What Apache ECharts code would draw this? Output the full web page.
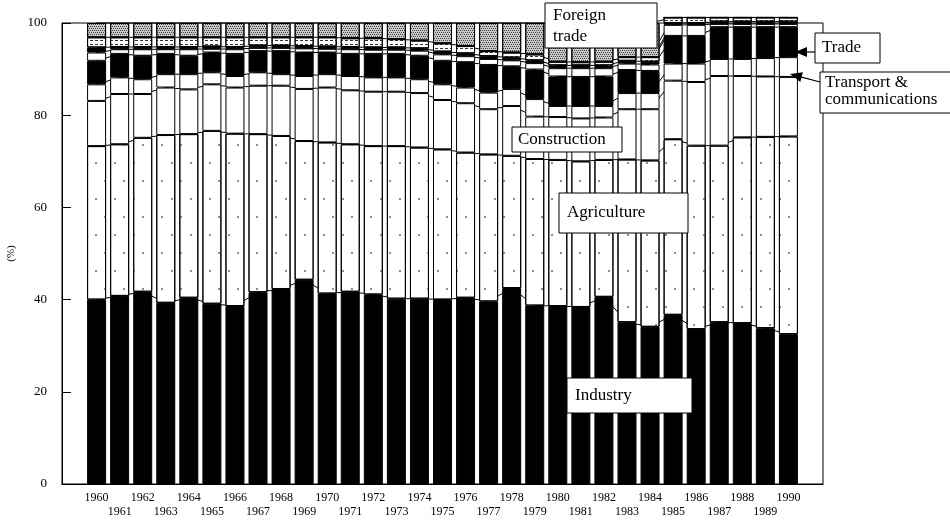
<!DOCTYPE html>
<html><head><meta charset="utf-8">
<script src="https://cdn.jsdelivr.net/npm/echarts@6/dist/echarts.min.js"></script>
<style>html,body{margin:0;padding:0;background:#fff}#c{width:950px;height:526px}</style>
</head><body><div id="c"></div>
<script>
const years = ['1960','1961','1962','1963','1964','1965','1966','1967','1968','1969','1970','1971','1972','1973','1974','1975','1976','1977','1978','1979','1980','1981','1982','1983','1984','1985','1986','1987','1988','1989','1990'];
const yTicks = [0, 20, 40, 60, 80, 100];
const industry     = [40.0,40.8,41.7,39.3,40.4,39.1,38.6,41.6,42.3,44.3,41.3,41.7,41.1,40.2,40.2,40.0,40.4,39.6,42.5,38.7,38.6,38.4,40.6,35.1,34.1,36.7,33.6,35.1,34.9,33.8,32.5];
const agriculture  = [33.3,32.9,33.4,36.4,35.5,37.5,37.4,34.3,33.2,30.1,32.8,32.0,32.2,33.1,32.8,32.6,31.5,31.9,28.7,31.8,31.7,31.6,29.7,35.3,36.1,38.1,39.8,38.3,40.3,41.5,42.9];
const construction = [9.8,10.9,9.5,10.3,9.7,10.1,10.0,10.5,10.9,11.3,11.9,11.7,11.8,11.8,11.8,10.7,10.7,9.8,10.8,9.2,9.3,9.3,9.2,10.9,11.1,12.7,13.8,15.1,13.3,13.1,12.9];
const transport    = [3.6,3.6,3.2,2.9,3.3,2.6,2.5,2.9,2.5,2.8,2.9,3.1,3.1,3.1,3.0,3.4,3.4,3.6,3.7,3.8,2.4,2.7,2.5,3.5,3.5,3.7,4.0,3.7,3.7,4.0,4.3];
const trade        = [5.1,5.1,5.1,4.4,4.0,4.3,4.8,4.6,5.0,5.1,4.7,4.8,5.1,5.1,5.1,5.1,5.5,6.0,4.9,6.4,6.4,6.3,6.4,5.0,4.8,6.0,6.0,6.9,6.9,6.7,6.5];
const otherWhite   = [1.8,1.0,1.4,1.0,1.4,0.8,1.0,0.7,0.7,0.9,0.8,1.0,0.9,0.9,1.1,1.4,1.3,1.3,1.3,1.4,1.8,1.9,1.8,1.4,1.4,2.4,2.4,0.7,0.7,0.7,0.7];
const thinBlack    = [1.1,0.5,0.5,0.5,0.5,0.5,0.5,0.5,0.5,0.5,0.5,0.5,0.5,0.5,0.5,0.6,0.6,0.6,0.6,0.6,0.6,0.6,0.6,0.6,0.6,0.4,0.4,0.5,0.5,0.5,0.5];
const dotted       = [2.2,2.1,2.1,2.1,2.1,2.0,2.1,1.8,1.8,1.9,2.0,1.9,2.0,1.8,1.7,1.8,1.6,1.1,1.1,1.3,0.8,0.7,0.8,0.8,1.0,1.2,1.2,0.9,0.9,0.9,0.9];
const foreignTrade = [3.1,3.1,3.1,3.1,3.1,3.1,3.1,3.1,3.1,3.1,3.1,3.3,3.3,3.5,3.8,4.4,5.0,6.1,6.4,6.8,8.4,8.5,8.4,7.4,7.4,0,0,0,0,0,0];

const FONT = '"Liberation Serif", "DejaVu Serif", serif';
const cats = [''].concat(years, ['']);
const pad = a => ['-'].concat(a, ['-']);

const layers = [
  {name:'Industry', data:industry, color:'#000'},
  {name:'Agriculture', data:agriculture, color:'#fff',
    decal:{symbol:'circle', symbolSize:1, dashArrayX:[[1.4,17],[0,9,1.4,7.6]], dashArrayY:[1.4,16], color:'#666'}},
  {name:'Construction', data:construction, color:'#fff'},
  {name:'Transport & communications', data:transport, color:'#fff'},
  {name:'Trade', data:trade, color:'#000'},
  {name:'Other', data:otherWhite, color:'#fff'},
  {name:'Other2', data:thinBlack, color:'#000'},
  {name:'Other3', data:dotted, color:'#fff',
    decal:{symbol:'rect', symbolSize:1, dashArrayX:[3,2], dashArrayY:[1,3], color:'#333'}},
  {name:'Foreign trade', data:foreignTrade, color:'#c8c8c8',
    decal:{symbol:'rect', symbolSize:1, dashArrayX:[[1,1],[0,1,1,0]], dashArrayY:[1,0.6], color:'#444'}}
];

const series = [];
layers.forEach(L => {
  series.push({
    type:'bar', name:L.name, stack:'total', data:pad(L.data), barWidth:19,
    z:3, clip:false, silent:true, animation:false,
    itemStyle:{color:L.color, borderColor:'#000', borderWidth:1, decal:L.decal || null}
  });
  series.push({
    type:'line', name:L.name + ' link', stack:'links', data:pad(L.data),
    symbol:'none', z:1, clip:false, silent:true, animation:false,
    lineStyle:{color:'#000', width:1}
  });
});

function box(x, y, w, h, text, tx, ty, lh) {
  return {
    type:'group',
    children:[
      {type:'rect', z:100, shape:{x:x, y:y, width:w, height:h}, style:{fill:'#fff', stroke:'#000', lineWidth:1}},
      {type:'text', z:101, x:tx, y:ty, style:{text:text, fill:'#000', font:'17px ' + FONT, lineHeight:lh || 20, textVerticalAlign:'top'}}
    ]
  };
}
function arrow(x1, y1, x2, y2) {
  const ang = Math.atan2(y2 - y1, x2 - x1);
  const L = 12, W = 5;
  const bx = x2 - L * Math.cos(ang), by = y2 - L * Math.sin(ang);
  const px = -Math.sin(ang) * W, py = Math.cos(ang) * W;
  return {
    type:'group',
    children:[
      {type:'line', z:102, shape:{x1:x1, y1:y1, x2:bx, y2:by}, style:{stroke:'#000', lineWidth:1.2}},
      {type:'polygon', z:102, shape:{points:[[x2,y2],[bx+px,by+py],[bx-px,by-py]]}, style:{fill:'#000'}}
    ]
  };
}

const chart = echarts.init(document.getElementById('c'), null, {renderer:'canvas'});
chart.setOption({
  animation:false,
  backgroundColor:'#fff',
  grid:{left:62, right:127, top:23, bottom:42, show:true, borderColor:'#000', borderWidth:1, backgroundColor:'transparent', outerBoundsMode:'none', containLabel:false},
  xAxis:{
    type:'category', data:cats, boundaryGap:true,
    axisLine:{lineStyle:{color:'#000', width:1}},
    axisTick:{show:false},
    axisLabel:{
      interval:0, color:'#000', fontFamily:FONT, fontSize:12, lineHeight:14, margin:7,
      formatter:v => { if (!v) return ''; return (+v) % 2 === 0 ? v : '\n' + v; }
    }
  },
  yAxis:{
    type:'value', min:yTicks[0], max:yTicks[yTicks.length-1], interval:yTicks[1]-yTicks[0],
    name:'(%)', nameLocation:'middle', nameGap:42, nameRotate:90,
    nameTextStyle:{color:'#000', fontFamily:FONT, fontSize:11},
    axisLine:{show:true, lineStyle:{color:'#000', width:1}},
    axisTick:{show:true, inside:true, length:9, lineStyle:{color:'#000'}},
    axisLabel:{color:'#000', fontFamily:FONT, fontSize:13, margin:15},
    splitLine:{show:false}
  },
  series:series,
  graphic:{elements:[
    box(545, 3, 112, 45, 'Foreign\ntrade', 553, 5, 21),
    box(512, 127, 110, 25, 'Construction', 518, 130),
    box(559, 193, 129, 40, 'Agriculture', 567, 203),
    box(567, 378, 125, 35, 'Industry', 575, 386),
    box(815, 33, 65, 30, 'Trade', 822, 38),
    box(820, 72, 140, 41, 'Transport &\ncommunications', 825, 74, 17),
    arrow(815, 52, 795, 52),
    arrow(820, 82, 790, 74)
  ]}
});
</script>
</body></html>
